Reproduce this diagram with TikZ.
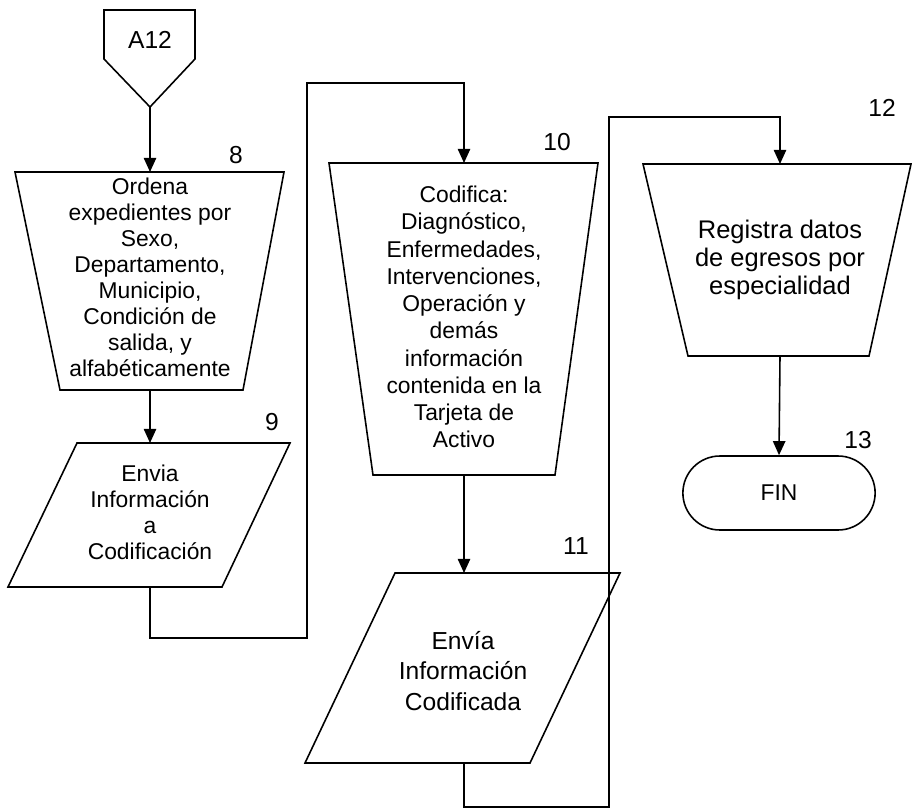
\documentclass[tikz,border=0pt]{standalone}
\usepackage{fontspec}
\setmainfont{Liberation Sans}
\usetikzlibrary{arrows.meta,shapes.misc}
\tikzset{
	linea/.style={line width=0.9pt},
	flujo/.style={line width=0.9pt,-{Triangle[length=8pt,width=7pt]}},
	texto/.style={align=center,inner sep=0pt},
	paso/.style={font=\fontsize{14}{16}\selectfont}
}
\begin{document}
\begin{tikzpicture}[x=0.02cm,y=-0.02cm]
	\useasboundingbox (0,0) rectangle (912,811);
		\draw[linea](104, 10) -- (195, 10) -- (195, 59) -- (150, 107) -- (104, 59) -- cycle;
			\node[texto,font=\fontsize{14}{16}\selectfont] (a12) at (150, 40){A12};
			\coordinate (a12S) at (150, 107);
		\draw[linea](15, 172) -- (284, 172) -- (243, 390) -- (60, 390) -- cycle;
			\node[texto,font=\fontsize{13}{14.8}\selectfont] (ordena) at (150, 277){Ordena\\expedientes por\\Sexo,\\Departamento,\\Municipio,\\Condición de\\salida, y\\alfabéticamente};
			\node[paso] (n8) at (236, 155){8};
			\coordinate (ordN) at (150, 172);
			\coordinate (ordS) at (150, 390);
		\draw[linea](77, 443) -- (290, 443) -- (222, 587) -- (8, 587) -- cycle;
			\node[texto,font=\fontsize{13}{14.8}\selectfont] (envia) at (150, 512){Envia\\Información\\a\\Codificación};
			\node[paso] (n9) at (272, 422){9};
			\coordinate (envN) at (150, 443);
			\coordinate (envS) at (150, 587);
		\draw[linea](329, 163) -- (598, 163) -- (555, 475) -- (373, 475) -- cycle;
			\node[texto,font=\fontsize{13}{15.5}\selectfont] (codifica) at (464, 317){Codifica:\\Diagnóstico,\\Enfermedades,\\Intervenciones,\\Operación y\\demás\\información\\contenida en la\\Tarjeta de\\Activo};
			\node[paso] (n10) at (557, 142){10};
			\coordinate (codN) at (464, 163);
			\coordinate (codS) at (464, 475);
		\draw[linea](395, 573) -- (620, 573) -- (530, 763) -- (305, 763) -- cycle;
			\node[texto,font=\fontsize{14}{17.6}\selectfont] (codificada) at (463, 671){Envía\\Información\\Codificada};
			\node[paso] (n11) at (576, 546){11};
			\coordinate (ecN) at (464, 573);
			\coordinate (ecS) at (464, 763);
		\draw[linea](643, 164) -- (911, 164) -- (869, 356) -- (688, 356) -- cycle;
			\node[texto,font=\fontsize{14.5}{16}\selectfont] (registra) at (780, 260){Registra datos\\de egresos por\\especialidad};
			\node[paso] (n12) at (882, 108){12};
			\coordinate (regN) at (780, 164);
			\coordinate (regS) at (780, 356);
		\node[draw,linea,rounded rectangle,minimum width=4.08cm,minimum height=1.48cm,font=\fontsize{13}{15}\selectfont] (fin) at (779, 493){FIN};
			\node[paso] (n13) at (858, 440){13};

		\coordinate (v1) at (307, 638);
		\coordinate (v2) at (307, 83);
		\coordinate (v3) at (609, 807);
		\coordinate (v4) at (609, 117);
		\draw[flujo](a12S) -- (ordN);
		\draw[flujo](ordS) -- (envN);
		\draw[flujo](envS) |- (v1) -- (v2) -| (codN);
		\draw[flujo](codS) -- (ecN);
		\draw[flujo](ecS) |- (v3) -- (v4) -| (regN);
		\draw[flujo](regS) -- (fin.north);
	\end{tikzpicture}
\end{document}
